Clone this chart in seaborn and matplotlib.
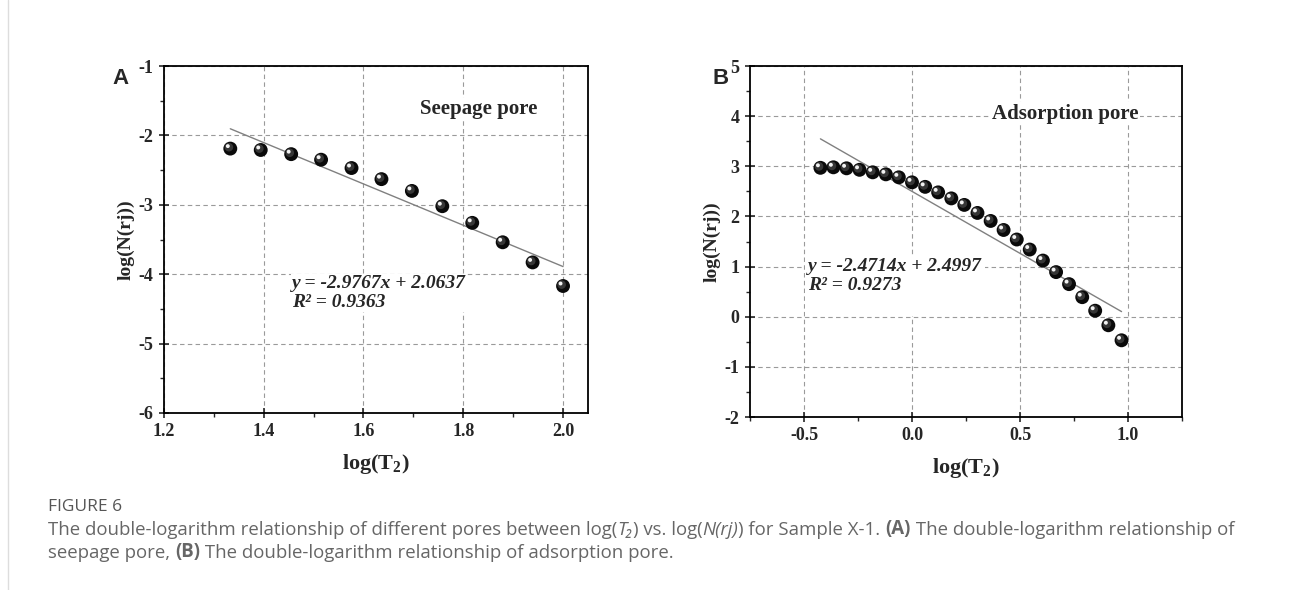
import matplotlib
matplotlib.use("Agg")
import matplotlib.pyplot as plt
import matplotlib.transforms as mtrans
from matplotlib.lines import Line2D
from matplotlib.ticker import MultipleLocator, FormatStrFormatter
import numpy as np
import pandas as pd
import seaborn as sns

# panel A: seepage pore
seep_logt2 = [1.333, 1.394, 1.455, 1.515, 1.576, 1.636, 1.697, 1.758, 1.818, 1.879, 1.939, 2.000]
seep_logn = [-2.19, -2.21, -2.27, -2.35, -2.47, -2.63, -2.80, -3.02, -3.26, -3.54, -3.83, -4.17]
seep_fit = (-2.9767, 2.0637)
seep_r2 = 0.9363

# panel B: adsorption pore
ads_logt2 = [-0.424, -0.364, -0.303, -0.243, -0.182, -0.121, -0.061, 0.000, 0.061, 0.121,
             0.182, 0.242, 0.303, 0.364, 0.424, 0.485, 0.545, 0.606, 0.667, 0.727,
             0.788, 0.848, 0.909, 0.970]
ads_logn = [2.97, 2.98, 2.96, 2.93, 2.88, 2.84, 2.78, 2.68, 2.59, 2.48,
            2.36, 2.23, 2.07, 1.91, 1.73, 1.54, 1.34, 1.12, 0.89, 0.65,
            0.39, 0.12, -0.17, -0.47]
ads_fit = (-2.4714, 2.4997)
ads_r2 = 0.9273

sns.set_style("ticks")
plt.rcParams["font.family"] = ["Liberation Serif", "DejaVu Serif"]
plt.rcParams["font.weight"] = "bold"
plt.rcParams["mathtext.fontset"] = "custom"
plt.rcParams["mathtext.rm"] = "Liberation Serif:bold"
plt.rcParams["mathtext.bf"] = "Liberation Serif:bold"
plt.rcParams["mathtext.it"] = "Liberation Serif:bold:italic"

fig = plt.figure(figsize=(12.9, 5.9), dpi=100)
ax_a = fig.add_axes([0.1271, 0.3000, 0.3287, 0.5881])
ax_b = fig.add_axes([0.5814, 0.2932, 0.3349, 0.5949])


def sphere_points(ax, x, y):
    # black balls with a small highlight, like the Origin sphere symbol
    df = pd.DataFrame({"x": x, "y": y})
    sns.scatterplot(data=df, x="x", y="y", ax=ax, s=100, color="#0a0a0a",
                    edgecolor="none", zorder=4)
    mid = mtrans.offset_copy(ax.transData, fig=fig, x=-1.4, y=1.4, units="dots")
    sns.scatterplot(data=df, x="x", y="y", ax=ax, s=38, color="#4a4a4a",
                    edgecolor="none", alpha=0.7, zorder=5, transform=mid)
    hi = mtrans.offset_copy(ax.transData, fig=fig, x=-2.5, y=2.5, units="dots")
    sns.scatterplot(data=df, x="x", y="y", ax=ax, s=8, color="#f2f2f2",
                    edgecolor="none", zorder=6, transform=hi)


def style_panel(ax, xlim, ylim, xmaj, xmin, ymaj, ymin, xfmt, yfmt):
    ax.set_xlim(*xlim)
    ax.set_ylim(*ylim)
    ax.xaxis.set_major_locator(MultipleLocator(xmaj))
    ax.xaxis.set_minor_locator(MultipleLocator(xmin))
    ax.yaxis.set_major_locator(MultipleLocator(ymaj))
    ax.yaxis.set_minor_locator(MultipleLocator(ymin))
    ax.xaxis.set_major_formatter(FormatStrFormatter(xfmt))
    ax.yaxis.set_major_formatter(FormatStrFormatter(yfmt))
    ax.grid(True, which="major", color="#9a9a9a", linestyle=(0, (4, 3)), linewidth=0.8)
    ax.set_axisbelow(True)
    for sp in ax.spines.values():
        sp.set_visible(True)
        sp.set_linewidth(1.3)
        sp.set_color("black")
    ax.tick_params(which="major", direction="inout", length=7, width=1.2,
                   labelsize=13, pad=4)
    ax.tick_params(which="minor", direction="out", length=3, width=1.0)
    ax.set_xlabel("log(T$_\\mathregular{2}$)", fontsize=16, fontweight="bold", labelpad=8)
    ax.set_ylabel("log(N(rj))", fontsize=14, fontweight="bold", labelpad=3)


def fit_line(ax, x, slope, intercept):
    xs = [min(x), max(x)]
    df = pd.DataFrame({"x": xs, "y": [slope * v + intercept for v in xs]})
    sns.lineplot(data=df, x="x", y="y", ax=ax, color="#808080", linewidth=1.0, zorder=3)


# panel A
fit_line(ax_a, seep_logt2, *seep_fit)
sphere_points(ax_a, seep_logt2, seep_logn)
style_panel(ax_a, (1.2, 2.05), (-6, -1), 0.2, 0.1, 1, 0.5, "%.1f", "%d")
ax_a.text(1.713, -1.62, "Seepage pore", fontsize=15, fontweight="bold",
          ha="left", va="center", zorder=7,
          bbox=dict(facecolor="white", edgecolor="none", pad=1))
ax_a.text(1.457, -4.01,
          f"y = {seep_fit[0]:.4f}x + {seep_fit[1]:.4f}\nR² = {seep_r2:.4f}",
          fontsize=14, fontweight="bold", fontstyle="italic", ha="left", va="top",
          linespacing=1.15, zorder=7,
          bbox=dict(facecolor="white", edgecolor="none", pad=1))

# panel B
fit_line(ax_b, ads_logt2, *ads_fit)
sphere_points(ax_b, ads_logt2, ads_logn)
style_panel(ax_b, (-0.75, 1.25), (-2, 5), 0.5, 0.25, 1, 0.5, "%.1f", "%d")
ax_b.text(0.370, 4.05, "Adsorption pore", fontsize=15, fontweight="bold",
          ha="left", va="center", zorder=7,
          bbox=dict(facecolor="white", edgecolor="none", pad=1))
ax_b.text(-0.481, 1.17,
          f"y = {ads_fit[0]:.4f}x + {ads_fit[1]:.4f}\nR² = {ads_r2:.4f}\n\u00a0",
          fontsize=14, fontweight="bold", fontstyle="italic", ha="left", va="top",
          linespacing=1.15, zorder=7,
          bbox=dict(facecolor="white", edgecolor="none", pad=2))

# panel letters
fig.text(112 / 1290, 1 - 79 / 590, "A", family="Liberation Sans", fontsize=16,
         fontweight="bold", ha="left", va="center")
fig.text(712 / 1290, 1 - 79 / 590, "B", family="Liberation Sans", fontsize=16,
         fontweight="bold", ha="left", va="center")

# page border
fig.add_artist(Line2D([8 / 1290, 8 / 1290], [0, 1], color="#dddddd", linewidth=1))

# caption
cap_family = ["Open Sans", "DejaVu Sans"]
cap_color = "#666666"
fig.text(48 / 1290, 1 - 507 / 590, "FIGURE 6", family=cap_family, fontsize=12.5,
         color="#555555", fontweight="normal", ha="left", va="center")


def caption_line(y_px, pieces):
    # chain text pieces so bold / italic runs sit next to each other
    prev = None
    for txt, weight, style in pieces:
        kw = dict(family=cap_family, fontsize=13.4, color=cap_color,
                  fontweight=weight, fontstyle=style)
        if prev is None:
            prev = fig.text(48 / 1290, 1 - y_px / 590, txt, ha="left", va="bottom", **kw)
        else:
            prev = plt.annotate(txt, xy=(1, 0), xycoords=prev, ha="left",
                                va="bottom", annotation_clip=False, **kw)


caption_line(539, [
    ("The double-logarithm relationship of different pores between log(", "normal", "normal"),
    ("T₂", "normal", "italic"),
    (") vs. log(", "normal", "normal"),
    ("N(rj)", "normal", "italic"),
    (") for Sample X-1. ", "normal", "normal"),
    ("(A)", "bold", "normal"),
    (" The double-logarithm relationship of", "normal", "normal"),
])
caption_line(562, [
    ("seepage pore, ", "normal", "normal"),
    ("(B)", "bold", "normal"),
    (" The double-logarithm relationship of adsorption pore.", "normal", "normal"),
])

fig.savefig("out.png", dpi=100)
